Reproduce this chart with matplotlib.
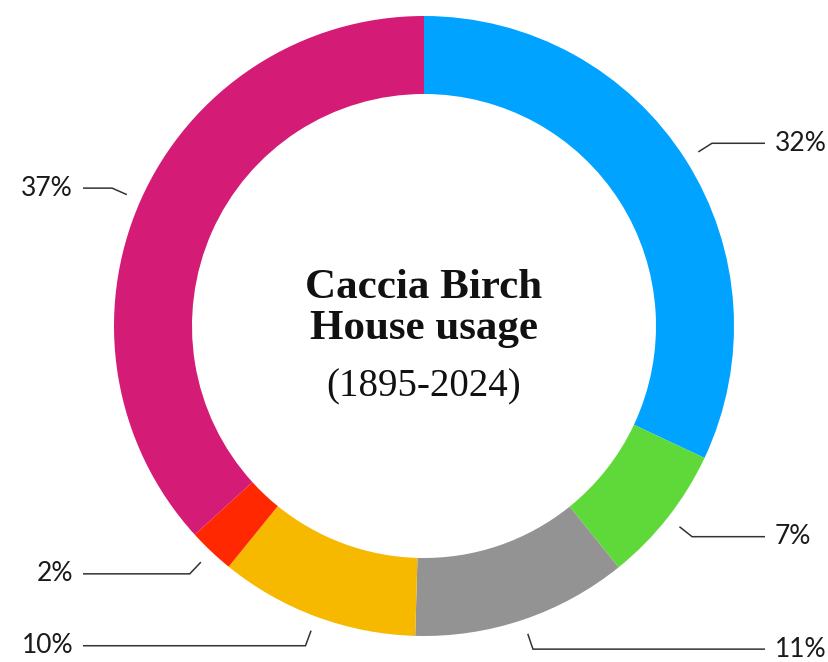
import numpy as np
import matplotlib
matplotlib.use("Agg")
import matplotlib.pyplot as plt

# slices, clockwise from 12 o'clock
shares = [32.0, 7.2, 11.25, 10.4, 2.4, 36.75]
labels = ["32%", "7%", "11%", "10%", "2%", "37%"]
colors = ["#00A3FF", "#5FD93A", "#939393", "#F7B900", "#FF2800", "#D41B76"]

title_lines = ["Caccia Birch", "House usage"]
subtitle = "(1895-2024)"

W, H, DPI = 829, 662, 100
CX, CY, R = 424, 326, 310  # pixel centre / radius of the ring


def px_x(x):
    return (x - CX) / R


def px_y(y):
    return (CY - y) / R


fig = plt.figure(figsize=(W / DPI, H / DPI), dpi=DPI)
ax = fig.add_axes([0, 0, 1, 1])

ax.pie(
    shares, radius=1.0, startangle=90, counterclock=False, colors=colors,
    wedgeprops=dict(width=78 / R, linewidth=0),
)

# leader lines + labels
total = sum(shares)
cum = 0.0
for share, lab in zip(shares, labels):
    mid = np.deg2rad((cum + share / 2) / total * 360)
    cum += share
    dx, dy = np.sin(mid), np.cos(mid)
    r0, r1 = 1.048, 1.10
    x0, y0 = r0 * dx, r0 * dy
    x1, y1 = r1 * dx, r1 * dy
    side = 1 if dx > 0 else -1
    x2 = side * 1.10
    ax.plot([x0, x1, x2], [y0, y1, y1], color="#333333", lw=1.1,
            solid_joinstyle="miter", solid_capstyle="butt")
    ax.text(x2 + side * 0.032, y1 + 0.008, lab, ha="left" if side > 0 else "right",
            va="center_baseline", fontsize=19,
            family=["Lato", "DejaVu Sans"], color="#1a1a1a")

# centre title
ax.text(0, px_y(298), title_lines[0], ha="center", va="baseline",
        fontsize=31, fontweight="bold", family=["Liberation Serif", "DejaVu Serif"],
        color="#111111")
ax.text(0, px_y(339), title_lines[1], ha="center", va="baseline",
        fontsize=31, fontweight="bold", family=["Liberation Serif", "DejaVu Serif"],
        color="#111111")
ax.text(0, px_y(396), subtitle, ha="center", va="baseline",
        fontsize=28, family=["Liberation Serif", "DejaVu Serif"], color="#111111")

ax.set_xlim(px_x(0), px_x(W))
ax.set_ylim(px_y(H), px_y(0))
ax.set_aspect("equal")
ax.axis("off")

fig.savefig("out.png", dpi=DPI, facecolor="white")
